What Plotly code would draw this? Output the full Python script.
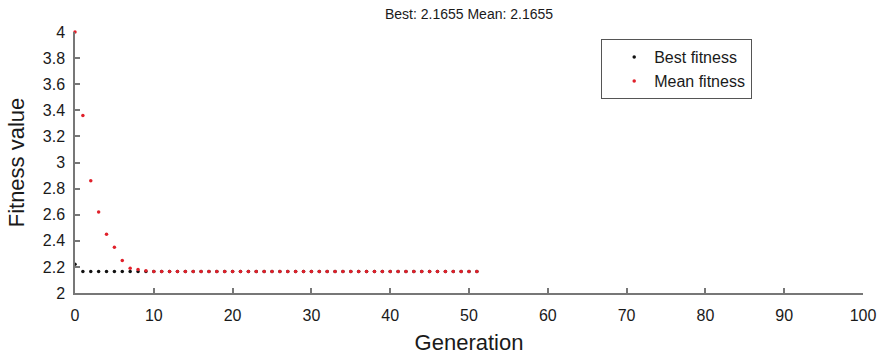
import plotly.graph_objects as go

generations = list(range(0, 52))
mean_head = [4.0, 3.36, 2.86, 2.62, 2.45, 2.35, 2.25, 2.19, 2.18, 2.17]
mean_fitness = mean_head + [2.1655] * (len(generations) - len(mean_head))
best_head = [2.22]
best_fitness = best_head + [2.1655] * (len(generations) - len(best_head))

y_tickvals = [2, 2.2, 2.4, 2.6, 2.8, 3, 3.2, 3.4, 3.6, 3.8, 4]
y_ticktext = ["2", "2.2", "2.4", "2.6", "2.8", "3", "3.2", "3.4", "3.6", "3.8", "4"]
x_tickvals = [0, 10, 20, 30, 40, 50, 60, 70, 80, 90, 100]

font = "Liberation Sans, Arial, sans-serif"
txt = "#1a1a1a"

fig = go.Figure()
fig.add_trace(go.Scatter(x=generations, y=best_fitness, mode="markers", name="Best fitness",
                         marker=dict(color="#111111", size=3.5), cliponaxis=False))
fig.add_trace(go.Scatter(x=generations, y=mean_fitness, mode="markers", name="Mean fitness",
                         marker=dict(color="#e0202a", size=3.5), cliponaxis=False))

axis_common = dict(showgrid=False, zeroline=False, showline=True, linecolor="#777777", linewidth=1.5,
                   ticks="inside", ticklen=5, tickcolor="#777777", tickwidth=1.5, automargin=False,
                   tickfont=dict(family=font, size=16, color=txt))

fig.update_layout(
    width=879, height=356,
    margin=dict(l=75, r=16, t=32, b=63),
    paper_bgcolor="white", plot_bgcolor="white",
    title=dict(text="Best: 2.1655 Mean: 2.1655", x=(75 + 394) / 879, xanchor="center",
               y=1 - 14 / 356, yanchor="middle", font=dict(family=font, size=14, color=txt)),
    xaxis=dict(range=[0, 100], tickvals=x_tickvals, ticklabelstandoff=7,
               title=dict(text="Generation", font=dict(family=font, size=22, color=txt), standoff=12),
               **axis_common),
    yaxis=dict(range=[2, 4], tickvals=y_tickvals, ticktext=y_ticktext, ticklabelstandoff=5,
               title=dict(text="Fitness value", font=dict(family=font, size=22, color=txt), standoff=12),
               **axis_common),
    legend=dict(x=(601 - 75) / 788, y=(293 - 39) / 261, xanchor="left", yanchor="top",
                bordercolor="#555555", borderwidth=1.2, indentation=12, entrywidth=100,
                bgcolor="white", font=dict(family=font, size=16, color=txt),
                itemsizing="trace", tracegroupgap=0),
    showlegend=True,
)

fig.write_html("out.html", config={"displayModeBar": False},
               post_script="document.body.style.margin='0';document.body.style.overflow='hidden';")
